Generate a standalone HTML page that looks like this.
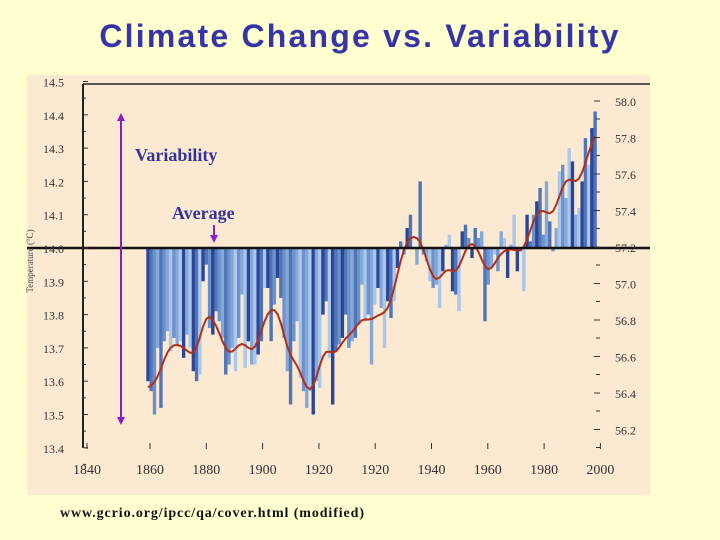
<!DOCTYPE html>
<html><head><meta charset="utf-8"><style>
html,body{margin:0;padding:0}
body{width:720px;height:540px;background:#ffffd0;position:relative;overflow:hidden;font-family:"Liberation Serif",serif}
#title{position:absolute;left:0;width:720px;top:18px;text-align:center;font-family:"Liberation Sans",sans-serif;font-weight:bold;font-size:32px;letter-spacing:2.2px;color:#3535a8}
svg{position:absolute;left:0;top:0}
</style></head><body>
<div id="title">Climate Change vs. Variability</div>
<svg id="chart" width="720" height="540">
<rect x="27" y="75" width="623" height="420" fill="#fce9d2"/>
<line x1="83" y1="84" x2="650" y2="84" stroke="#222" stroke-width="1.5"/>
<line x1="83" y1="84" x2="83" y2="448" stroke="#222" stroke-width="2"/>
<g id="bars"></g><g id="axes"></g>
<text x="60" y="517" font-size="14" font-weight="bold" letter-spacing="0.9" fill="#111">www.gcrio.org/ipcc/qa/cover.html (modified)</text>
<text x="135" y="161" font-size="18" font-weight="bold" fill="#33339a">Variability</text>
<text x="172" y="219" font-size="18" font-weight="bold" fill="#33339a">Average</text>
<g stroke="#8a1fc8" fill="#8a1fc8">
<line x1="121" y1="120" x2="121" y2="418" stroke-width="2"/>
<polygon points="117,121 125,121 121,113" stroke="none"/>
<polygon points="117,417 125,417 121,425" stroke="none"/>
</g>
<g fill="#8a1fc8" stroke="#8a1fc8">
<line x1="214" y1="225" x2="214" y2="236" stroke-width="2"/>
<polygon points="210,235 218,235 214,243" stroke="none"/>
</g>
<text x="27" y="255" font-size="9" fill="#444" transform="rotate(-90 33 255)" text-anchor="middle">Temperature (°C)</text>
</svg>
<script>
const years = [];
for (let y = 1860; y <= 1998; y++) years.push(y);
const anomalies = [-0.40,-0.43,-0.50,-0.30,-0.48,-0.28,-0.25,-0.31,-0.27,-0.29,-0.28,-0.33,-0.26,-0.30,-0.37,-0.40,-0.38,-0.10,-0.05,-0.24,-0.26,-0.19,-0.22,-0.27,-0.38,-0.35,-0.30,-0.37,-0.27,-0.14,-0.36,-0.28,-0.35,-0.35,-0.32,-0.28,-0.12,-0.12,-0.28,-0.17,-0.09,-0.15,-0.27,-0.37,-0.47,-0.28,-0.22,-0.39,-0.43,-0.48,-0.43,-0.50,-0.40,-0.42,-0.20,-0.16,-0.33,-0.47,-0.31,-0.29,-0.27,-0.20,-0.30,-0.28,-0.27,-0.23,-0.11,-0.22,-0.20,-0.35,-0.17,-0.12,-0.18,-0.30,-0.16,-0.21,-0.16,-0.06,0.02,-0.02,0.06,0.10,0.00,-0.05,0.20,-0.02,-0.04,-0.10,-0.12,-0.11,-0.18,-0.07,0.01,0.04,-0.13,-0.14,-0.19,0.05,0.07,0.03,-0.03,0.06,0.03,0.05,-0.22,-0.11,-0.06,-0.02,-0.07,0.05,0.03,-0.09,0.01,0.10,-0.07,-0.01,-0.13,0.10,0.02,0.10,0.14,0.18,0.04,0.20,0.08,-0.01,0.06,0.23,0.25,0.15,0.30,0.26,0.10,0.12,0.20,0.33,0.25,0.36,0.41];
const leftTicks = ["14.5","14.4","14.3","14.2","14.1","14.0","13.9","13.8","13.7","13.6","13.5","13.4"];
const rightTicks = ["58.0","57.8","57.6","57.4","57.2","57.0","56.8","56.6","56.4","56.2"];
const xTicks = ["1840","1860","1880","1900","1920","1920","1940","1960","1980","2000"];

const NS = "http://www.w3.org/2000/svg";
const x = yr => 148 + (yr - 1860) * 3.24;
const y = v => 248 - v * 333;
const bars = document.getElementById("bars");
const axes = document.getElementById("axes");
const cols = ["#2c4596","#6a92cc","#a9c8ec","#4f74b8","#86a8d8"];
function mk(tag, attrs, parent){const e=document.createElementNS(NS,tag);for(const k in attrs)e.setAttribute(k,attrs[k]);parent.appendChild(e);return e;}
anomalies.forEach((v,i)=>{
  const x0=x(years[i])-1.7, y0=Math.min(y(0),y(v)), h=Math.abs(y(v)-y(0));
  const r=mk("rect",{x:x0,y:y0,width:3.4,height:h,fill:cols[(i*3+(i>>2))%5]},bars);
  
  
});
let pts=[];
anomalies.forEach((v,i)=>{let s=0,w=0;for(let j=-7;j<=7;j++){const k=i+j;if(k<0||k>=anomalies.length)continue;const g=Math.exp(-j*j/(2*4.5));s+=g*anomalies[k];w+=g;}pts.push(x(years[i]).toFixed(1)+","+y(s/w).toFixed(1));});
const pl=mk("polyline",{points:pts.join(" "),fill:"none",stroke:"#b0301e","stroke-width":2},bars);


const zl=mk("line",{x1:27,x2:650,y1:y(0),y2:y(0),stroke:"#111","stroke-width":2.5},axes);


leftTicks.forEach((t,i)=>{
  const v=0.5-i*0.1;
  const tx=mk("text",{x:43,y:y(v)+5,"font-size":12,fill:"#333"},axes);tx.textContent=t;
  
  
  mk("line",{x1:83,x2:88,y1:y(v),y2:y(v),stroke:"#333"},axes);
  mk("line",{x1:83,x2:86,y1:y(v)+16.6,y2:y(v)+16.6,stroke:"#333"},axes);
});
rightTicks.forEach((t,i)=>{
  const yy=101+i*36.5;
  const tx=mk("text",{x:615,y:yy+5,"font-size":12,fill:"#333"},axes);tx.textContent=t;
  
  
  mk("line",{x1:594,x2:600,y1:yy,y2:yy,stroke:"#333"},axes);
  mk("line",{x1:596,x2:600,y1:yy+18,y2:yy+18,stroke:"#333"},axes);
});
xTicks.forEach((t,i)=>{
  const xx = i===0 ? 87 : 150 + (i-1)*56.3;
  const tx=mk("text",{x:xx,y:474,"font-size":14,fill:"#333","text-anchor":"middle"},axes);tx.textContent=t;
  
  
  mk("line",{x1:xx,x2:xx,y1:443,y2:449,stroke:"#333"},axes);
});
</script>
</body></html>
